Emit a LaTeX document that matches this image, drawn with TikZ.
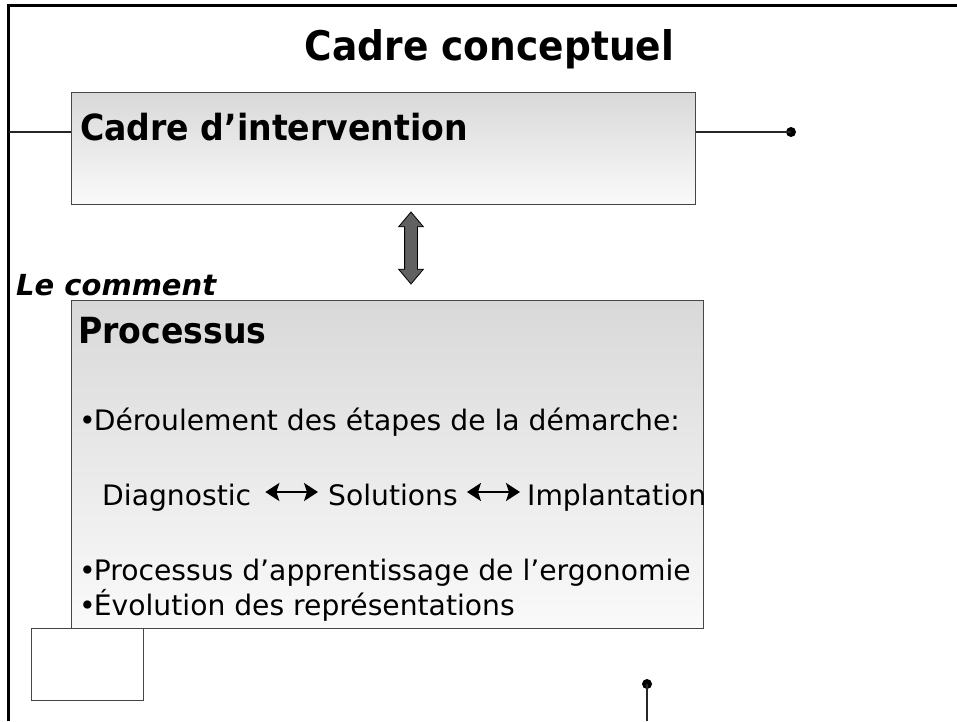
\documentclass[tikz,border=0pt]{standalone}
\usepackage{fontspec}
\setmainfont{DejaVu Sans}[BoldFeatures={FakeStretch=0.92}]
\usetikzlibrary{shapes.arrows,arrows.meta}

\newcommand{\puce}{•\kern-2pt}

\tikzset{
    cadre/.style={draw=gray!55!black, line width=1.2pt, anchor=north west,
        inner sep=0pt, top color=black!15, bottom color=black!2},
    petitcadre/.style={draw=gray!55!black, line width=1.2pt, anchor=north west,
        inner sep=0pt},
    texte/.style={anchor=base west, inner sep=0pt,
        font=\fontsize{28.2}{34}\selectfont},
    entete/.style={anchor=base west, inner sep=0pt,
        font=\fontsize{36}{43}\selectfont\bfseries},
    titre/.style={anchor=base, inner sep=0pt,
        font=\fontsize{40.8}{49}\selectfont\bfseries},
    pastille/.style={circle, fill=black, inner sep=0pt, minimum size=10pt},
    trait/.style={draw=gray!30!black, line width=1.1pt},
    fleche/.style={line width=2.2pt, {Stealth[length=14pt,width=18pt,inset=3pt]}-{Stealth[length=14pt,width=18pt,inset=3pt]}}
}

\begin{document}
\begin{tikzpicture}[x=1pt, y=-1pt]
    \useasboundingbox (0,0) rectangle (957,721);

    % Cadre de la page
    \draw[line width=2.2pt] (957,5.5) -- (8.5,5.5) -- (8.5,721);

    % Titre
    \node[titre] (titre) at (489.5,60) {Cadre conceptuel};

    % Cadre d'intervention
    \node[cadre, minimum width=624pt, minimum height=112pt] (interv) at (71,92) {};
    \node[entete] (tinterv) at (80,140) {Cadre d’intervention};

    % Traits et pastilles
    \coordinate (bordG) at (8.5,132);
    \node[pastille] (pointD) at (791,132) {};
    \draw[trait] (bordG) -- (bordG -| interv.west);
    \draw[trait] (pointD.center -| interv.east) -- (pointD.center);

    % Double fleche entre les cadres
    \node[double arrow, rotate=90, draw=black, fill=black!62, line width=0.8pt,
        minimum height=72pt, inner xsep=0pt, inner ysep=6pt,
        double arrow head extend=6pt, double arrow tip angle=80] (lien) at (411,248) {};

    % Le comment
    \node[anchor=base west, inner sep=0pt,
        font=\fontsize{29}{35}\selectfont\bfseries\itshape] (comment) at (16,295) {Le comment};

    % Processus
    \node[cadre, minimum width=632pt, minimum height=328pt] (proc) at (71,300) {};
    \node[entete] (tproc) at (78,343) {Processus};
    \node[texte] (ligneA) at (79,430) {\puce Déroulement des étapes de la démarche:};
    \node[texte] (diag) at (102,505) {Diagnostic};
    \node[texte] (sol) at (328,505) {Solutions};
    \node[texte] (impl) at (527,505) {Implantation};
    \draw[fleche] ([shift={(14pt,13pt)}]diag.base east) -- ([shift={(-10pt,13pt)}]sol.base west);
    \draw[fleche] ([shift={(9pt,13pt)}]sol.base east) -- ([shift={(-7pt,13pt)}]impl.base west);
    \node[texte] (ligneB) at (79,580) {\puce Processus d’apprentissage de l’ergonomie};
    \node[texte] (ligneC) at (79,615) {\puce Évolution des représentations};

    % Petit cadre et trait du bas
    \node[petitcadre, minimum width=112pt, minimum height=72pt] (petit) at (31,628) {};
    \node[pastille] (pointB) at (647,684) {};
    \coordinate (basB) at (647,721);
    \draw[trait] (pointB.center) -- (basB);

\end{tikzpicture}
\end{document}
